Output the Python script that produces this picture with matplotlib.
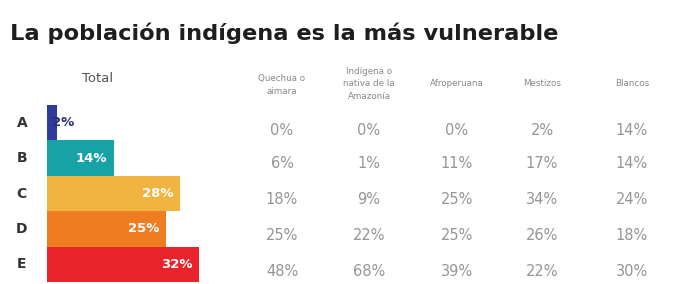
import matplotlib
matplotlib.use("Agg")
import matplotlib.pyplot as plt

plt.rcParams['font.family'] = ['DejaVu Sans']

title = "La población indígena es la más vulnerable"
levels = ["A", "B", "C", "D", "E"]
total = [2, 14, 28, 25, 32]
total_colors = ["#2f3b9b", "#17a3a6", "#f2b440", "#ee7d22", "#e8232b"]
groups = ["Quechua o\naimara", "Indígena o\nnativa de la\nAmazonía", "Afroperuana", "Mestizos", "Blancos"]
quechua = [0, 6, 18, 25, 48]
amazonia = [0, 1, 9, 22, 68]
afro = [0, 11, 25, 25, 39]
mestizos = [2, 17, 34, 26, 22]
blancos = [14, 14, 24, 18, 30]
table = [quechua, amazonia, afro, mestizos, blancos]

W, H = 675, 284
fig = plt.figure(figsize=(W / 100, H / 100), dpi=100)

fig.text(10 / W, 1 - 33 / H, title, fontsize=16.2, fontweight='bold', color='#1e1e1e',
         ha='left', va='center')
fig.text(98 / W, 1 - 79 / H, "Total", fontsize=9.5, color='#555555', ha='center', va='center')

# bar axes
x0, x1 = 47, 47 + 4.75 * 40
y_top, y_bot = 105, 282
ax = fig.add_axes([x0 / W, 1 - y_bot / H, (x1 - x0) / W, (y_bot - y_top) / H])
ax.barh(range(len(levels)), total, height=1.0, color=total_colors)
ax.set_xlim(0, 40)
ax.set_ylim(len(levels) - 0.5, -0.5)
ax.axis('off')
for i, (lv, v) in enumerate(zip(levels, total)):
    ax.text(-5.3, i, lv, fontsize=10, fontweight='bold', color='#333333', ha='center', va='center')
    if v < 5:
        ax.text(v - 0.9, i, f"{v}%", fontsize=9.5, fontweight='bold', color='#2a2f6e',
                ha='left', va='center')
    else:
        ax.text(v - 1.4, i, f"{v}%", fontsize=9.5, fontweight='bold', color='white',
                ha='right', va='center')

# table
col_x = [282, 369, 457, 542, 632]
row_y = [130, 164, 200, 236, 272]
head_y = [85, 84, 84, 84, 84]
for j, (g, vals) in enumerate(zip(groups, table)):
    fig.text(col_x[j] / W, 1 - head_y[j] / H, g, fontsize=6.3, color='#888888',
             ha='center', va='center', linespacing=1.45)
    for i, v in enumerate(vals):
        fig.text(col_x[j] / W, 1 - row_y[i] / H, f"{v}%", fontsize=10.5, color='#959595',
                 ha='center', va='center')

fig.savefig("out.png", dpi=100, facecolor='white')
